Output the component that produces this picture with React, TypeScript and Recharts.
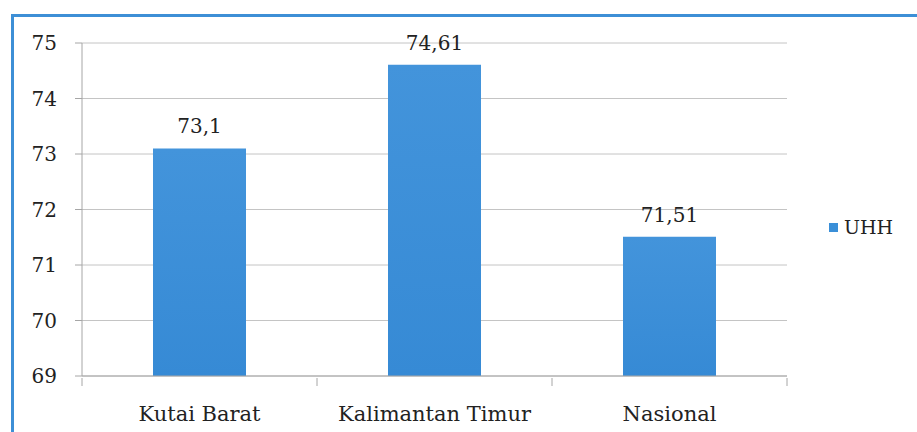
import React from "react";
import {
  BarChart,
  Bar,
  XAxis,
  YAxis,
  CartesianGrid,
  Legend,
  LabelList,
} from "recharts";

const regions = ["Kutai Barat", "Kalimantan Timur", "Nasional"];
const uhh = [73.1, 74.61, 71.51];
const yTicks = [69, 70, 71, 72, 73, 74, 75];

const data = regions.map((name, i) => ({ name, UHH: uhh[i] }));

const FONT = "'DejaVu Serif', serif";
const TEXT = "#222";
const AXIS = "#a6a6a6";

// category tick: label in the middle, small tick marks on the band edges
const XTick = (props: any) => {
  const { x, y, payload, index, visibleTicksCount } = props;
  const half = payload.offset || 0;
  const axisY = y - 6;
  const isLast = index === visibleTicksCount - 1;
  return (
    <g>
      <line x1={x - half} y1={axisY} x2={x - half} y2={axisY + 8} stroke={AXIS} />
      {isLast && (
        <line x1={x + half} y1={axisY} x2={x + half} y2={axisY + 8} stroke={AXIS} />
      )}
      <text
        x={x}
        y={axisY + 36}
        textAnchor="middle"
        dominantBaseline="central"
        fill={TEXT}
        fontFamily={FONT}
        fontSize={21}
      >
        {payload.value}
      </text>
    </g>
  );
};

const LegendBox = () => (
  <div style={{ display: "flex", alignItems: "center", fontFamily: FONT, fontSize: 19, color: TEXT }}>
    <span style={{ width: 9, height: 9, background: "#3a8fd8", marginRight: 6, display: "inline-block" }} />
    UHH
  </div>
);

export default function App() {
  return (
    <div style={{ position: "absolute", left: 0, top: 0, width: 917, height: 432, background: "#fff" }}>
      <div
        style={{
          position: "absolute",
          left: 11,
          top: 14,
          width: 906,
          height: 418,
          borderTop: "3px solid #3d8fd6",
          borderLeft: "3px solid #3d8fd6",
          boxSizing: "border-box",
        }}
      />
      <div style={{ position: "absolute", left: 0, top: 0 }}>
        <BarChart
          width={917}
          height={432}
          data={data}
          margin={{ top: 43, right: 50, left: 20, bottom: 0 }}
        >
          <defs>
            <linearGradient id="barFill" x1="0" y1="0" x2="0" y2="1">
              <stop offset="0%" stopColor="#4394db" />
              <stop offset="100%" stopColor="#368ad5" />
            </linearGradient>
          </defs>
          <CartesianGrid vertical={false} stroke="#c4c4c4" />
          <YAxis
            width={62}
            domain={[69, 75]}
            ticks={yTicks}
            interval={0}
            allowDataOverflow
            axisLine={{ stroke: AXIS }}
            tickLine={{ stroke: AXIS }}
            tickSize={7}
            tickMargin={18}
            tick={{ fill: TEXT, fontFamily: FONT, fontSize: 20 }}
          />
          <XAxis
            dataKey="name"
            height={56}
            interval={0}
            axisLine={{ stroke: AXIS }}
            tickLine={false}
            tick={<XTick />}
          />
          <Legend
            layout="vertical"
            align="right"
            verticalAlign="middle"
            content={<LegendBox />}
            wrapperStyle={{ left: 829, top: 216, width: 80 }}
          />
          <Bar dataKey="UHH" barSize={93} fill="url(#barFill)" isAnimationActive={false}>
            <LabelList
              dataKey="UHH"
              position="top"
              offset={15}
              formatter={(v: any) => String(v).replace(".", ",")}
              style={{ fill: TEXT, fontFamily: FONT, fontSize: 20 }}
            />
          </Bar>
        </BarChart>
      </div>
    </div>
  );
}
